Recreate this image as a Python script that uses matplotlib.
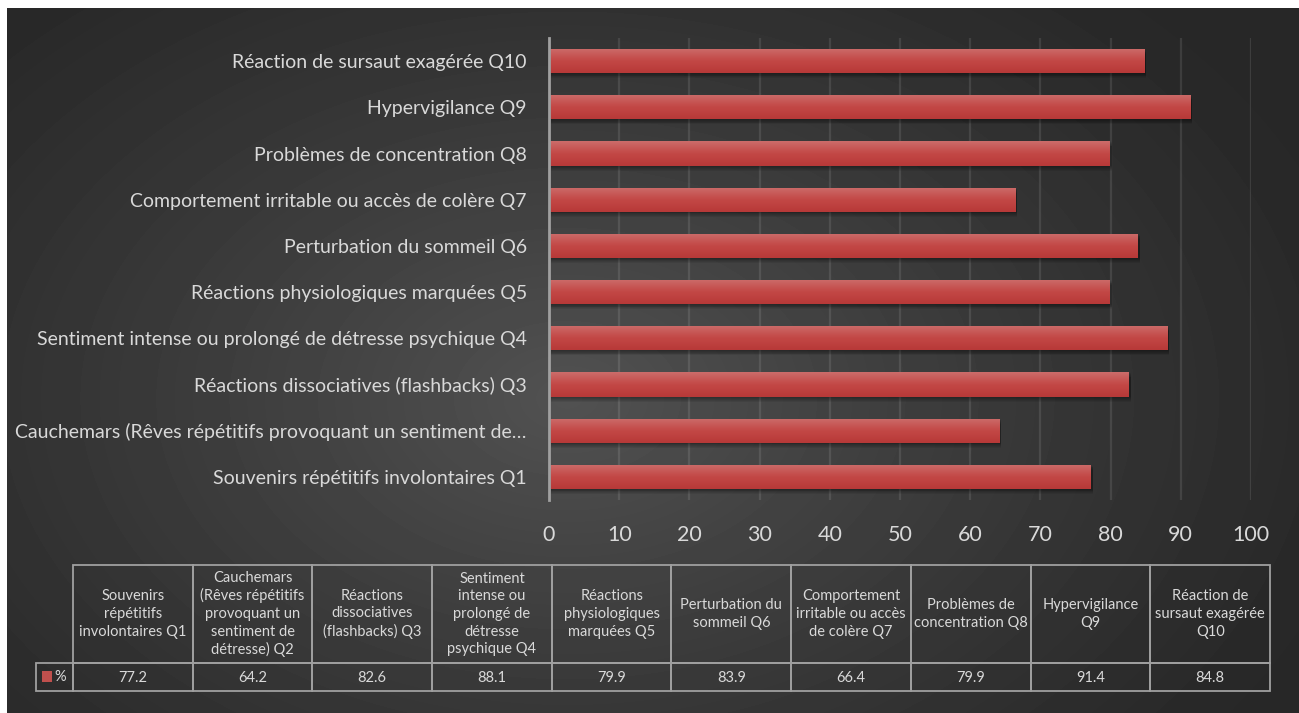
import numpy as np
import matplotlib.pyplot as plt
from matplotlib.colors import LinearSegmentedColormap
from matplotlib.patches import Rectangle

# Data (bottom to top in the bar chart, left to right in the table)
categories = [
    'Souvenirs répétitifs involontaires Q1',
    'Cauchemars (Rêves répétitifs provoquant un sentiment de détresse) Q2',
    'Réactions dissociatives (flashbacks) Q3',
    'Sentiment intense ou prolongé de détresse psychique Q4',
    'Réactions physiologiques marquées Q5',
    'Perturbation du sommeil Q6',
    'Comportement irritable ou accès de colère Q7',
    'Problèmes de concentration Q8',
    'Hypervigilance Q9',
    'Réaction de sursaut exagérée Q10',
]
# axis labels as shown (Q2 is cut off by the chart)
tick_labels = [
    'Souvenirs répétitifs involontaires Q1',
    'Cauchemars (Rêves répétitifs provoquant un sentiment de…',
    'Réactions dissociatives (flashbacks) Q3',
    'Sentiment intense ou prolongé de détresse psychique Q4',
    'Réactions physiologiques marquées Q5',
    'Perturbation du sommeil Q6',
    'Comportement irritable ou accès de colère Q7',
    'Problèmes de concentration Q8',
    'Hypervigilance Q9',
    'Réaction de sursaut exagérée Q10',
]
# wrapped headers of the data table
table_headers = [
    'Souvenirs\nrépétitifs\ninvolontaires Q1',
    'Cauchemars\n(Rêves répétitifs\nprovoquant un\nsentiment de\ndétresse) Q2',
    'Réactions\ndissociatives\n(flashbacks) Q3',
    'Sentiment\nintense ou\nprolongé de\ndétresse\npsychique Q4',
    'Réactions\nphysiologiques\nmarquées Q5',
    'Perturbation du\nsommeil Q6',
    'Comportement\nirritable ou accès\nde colère Q7',
    'Problèmes de\nconcentration Q8',
    'Hypervigilance\nQ9',
    'Réaction de\nsursaut exagérée\nQ10',
]
values = [77.2, 64.2, 82.6, 88.1, 79.9, 83.9, 66.4, 79.9, 91.4, 84.8]
series_name = '%'
x_ticks = [0, 10, 20, 30, 40, 50, 60, 70, 80, 90, 100]

plt.rcParams['font.family'] = ['Lato', 'DejaVu Sans']
TEXT = '#d9d9d9'
RED = '#c0504d'

W, H = 1299, 713
fig = plt.figure(figsize=(W / 100, H / 100), dpi=100, facecolor='white')

# dark radial background
bg = fig.add_axes([7 / W, 0, 1 - 7 / W, 1 - 8 / H], zorder=-10)
yy, xx = np.mgrid[0:705, 0:1292]
r = np.sqrt(((xx - 560) / 820) ** 2 + ((yy - 390) / 560) ** 2)
shade = 0.155 + 0.165 * np.clip(1 - r, 0, 1) ** 1.2
bg.imshow(shade, cmap='gray', vmin=0, vmax=1, aspect='auto', interpolation='bilinear')
bg.axis('off')

# bar chart
ax = fig.add_axes([549 / W, 1 - 500 / H, (1251 - 549) / W, (500 - 38) / H])
ax.set_facecolor('none')
y = np.arange(len(values))
bar_h = 0.52

# soft drop shadow under the bars
for k in range(1, 7):
    ax.barh(y - 0.018 * k, values, height=bar_h, left=0.25,
            color='black', alpha=0.07, zorder=2, linewidth=0)

bars = ax.barh(y, values, height=bar_h, color=RED, zorder=3, linewidth=0)
bar_cmap = LinearSegmentedColormap.from_list('bar', ['#b73938', '#c34846', '#cc6c6a'])
grad = np.linspace(0, 1, 64).reshape(-1, 1)
for b in bars:
    x0, y0, w, h = b.get_x(), b.get_y(), b.get_width(), b.get_height()
    im = ax.imshow(grad, cmap=bar_cmap, extent=[x0, x0 + w, y0, y0 + h],
                   origin='lower', aspect='auto', zorder=4)
    im.set_clip_path(b)

ax.set_xlim(0, 100)
ax.set_ylim(-0.5, 9.5)
ax.set_xticks(x_ticks)
ax.set_yticks(y, tick_labels)
ax.grid(axis='x', color='white', alpha=0.1, linewidth=1.6, zorder=1)
ax.set_axisbelow(True)
for side in ['top', 'right', 'bottom']:
    ax.spines[side].set_visible(False)
ax.spines['left'].set_color('#a0a0a0')
ax.spines['left'].set_linewidth(2)
ax.spines['left'].set_zorder(5)
ax.tick_params(axis='x', length=0, labelsize=15.5, labelcolor=TEXT, pad=18)
ax.tick_params(axis='y', length=0, labelsize=14, labelcolor=TEXT, pad=16)

# data table under the chart (pixel coordinates)
tab = fig.add_axes([0, 0, 1, 1], zorder=5)
tab.set_xlim(0, W)
tab.set_ylim(H, 0)
tab.axis('off')

col_left, col_w = 73, (1270 - 73) / len(values)
top, mid, bot = 565, 663, 691
edge = dict(facecolor='none', edgecolor='#a0a0a0', linewidth=1.3)
tab.add_patch(Rectangle((36, mid), col_left - 36, bot - mid, **edge))
tab.add_patch(Rectangle((42, 671), 10, 11, facecolor=RED, edgecolor='none'))
tab.text(54, (mid + bot) / 2, series_name, color=TEXT, fontsize=10.5,
         ha='left', va='center')
for i, (hdr, v) in enumerate(zip(table_headers, values)):
    x0 = col_left + i * col_w
    tab.add_patch(Rectangle((x0, top), col_w, mid - top, **edge))
    tab.add_patch(Rectangle((x0, mid), col_w, bot - mid, **edge))
    tab.text(x0 + col_w / 2, (top + mid) / 2, hdr, color=TEXT, fontsize=10.5,
             ha='center', va='center', multialignment='center', linespacing=1.32)
    tab.text(x0 + col_w / 2, (mid + bot) / 2 + 1, f'{v:.1f}', color=TEXT,
             fontsize=10.5, ha='center', va='center')

fig.savefig('out.png', dpi=100, facecolor=fig.get_facecolor())
